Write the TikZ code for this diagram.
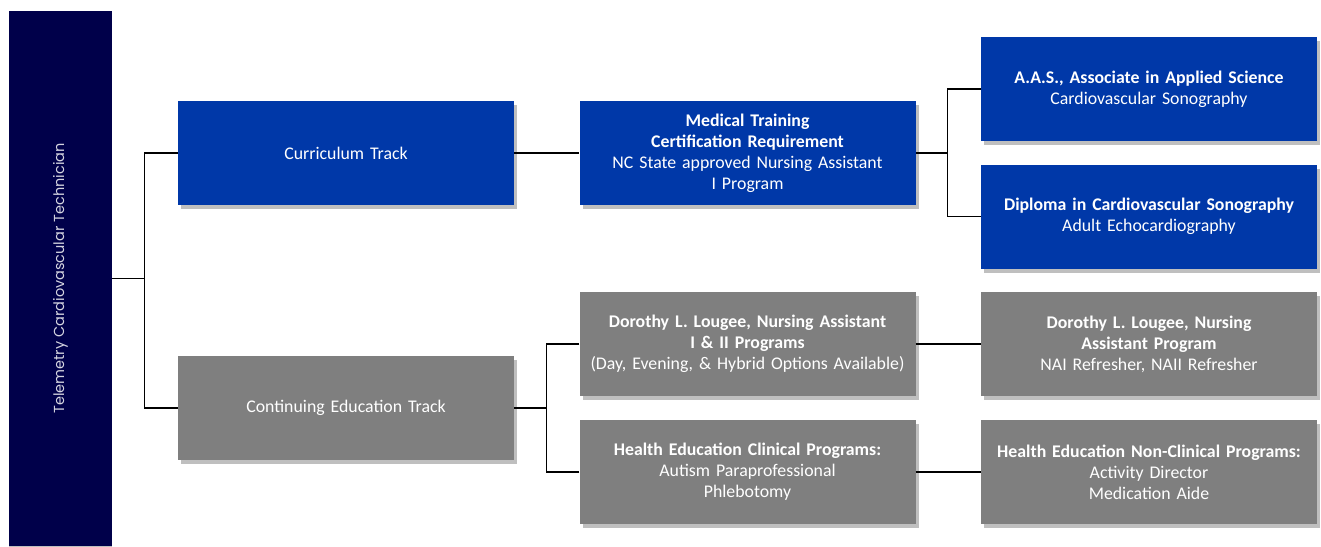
\documentclass[tikz,border=0pt]{standalone}
\usepackage{fontspec}
\setmainfont{Carlito}
\newfontfamily\gothic{Poppins}
\usetikzlibrary{shadows}
\definecolor{navy}{HTML}{00004A}
\definecolor{cblue}{HTML}{0038A8}
\definecolor{cgray}{HTML}{7F7F7F}
\definecolor{roottext}{HTML}{D4D4E0}
\begin{document}
\begin{tikzpicture}[x=1pt,y=-1pt,
  box/.style={minimum width=336pt, minimum height=104pt, text width=330pt,
    align=center, font=\fontsize{17.8}{21}\selectfont, text=white, inner sep=0pt,
    drop shadow={shadow xshift=3pt, shadow yshift=-4pt, opacity=0.25, fill=black}},
  bluebox/.style={box, fill=cblue},
  graybox/.style={box, fill=cgray},
  link/.style={draw=black, line width=1.2pt}]
\useasboundingbox (0,0) rectangle (1321,546);
\fill[white] (0,0) rectangle (1321,546);
% root
\node[fill=navy, rotate=90, minimum width=535pt, minimum height=103pt, inner sep=0pt,
  text=roottext, font=\gothic\fontsize{14.5}{16}\selectfont,
  drop shadow={shadow xshift=0pt, shadow yshift=-4pt, opacity=0.25, fill=black}]
  (root) at (60.5,278.5) {Telemetry Cardiovascular Technician};
% level 1
\node[bluebox] (cur) at (346,153) {Curriculum Track};
\node[graybox] (cont) at (346,408) {Continuing Education Track};
% level 2
\node[bluebox] (med) at (747.5,153) {\textbf{Medical Training}\\\textbf{Certification Requirement}\\NC State approved Nursing Assistant\\I Program};
\node[graybox] (dor) at (747.5,344) {\textbf{Dorothy L. Lougee, Nursing Assistant}\\\textbf{I \& II Programs}\\(Day, Evening, \& Hybrid Options Available)};
\node[graybox] (clin) at (747.5,472) {\textbf{Health Education Clinical Programs:}\\Autism Paraprofessional\\Phlebotomy};
% level 3
\node[bluebox] (aas) at (1149,89) {\textbf{A.A.S., Associate in Applied Science}\\Cardiovascular Sonography};
\node[bluebox] (dip) at (1149,216.5) {\textbf{Diploma in Cardiovascular Sonography}\\Adult Echocardiography};
\node[graybox] (dref) at (1149,344) {\textbf{Dorothy L. Lougee, Nursing}\\\textbf{Assistant Program}\\NAI Refresher, NAII Refresher};
\node[graybox] (nonc) at (1149,472) {\textbf{Health Education Non-Clinical Programs:}\\Activity Director\\Medication Aide};
% connectors
\draw[link] (cur.west) -- ++(-33,0) |- (root.south);
\draw[link] (cont.west) -- ++(-33,0) |- (root.south);
\draw[link] (cur.east) -- (med.west);
\draw[link] (aas.west) -- ++(-33,0) |- (med.east);
\draw[link] (dip.west) -- ++(-33,0) |- (med.east);
\draw[link] (dor.west) -- ++(-33,0) |- (cont.east);
\draw[link] (clin.west) -- ++(-33,0) |- (cont.east);
\draw[link] (dor.east) -- (dref.west);
\draw[link] (clin.east) -- (nonc.west);
\end{tikzpicture}
\end{document}
